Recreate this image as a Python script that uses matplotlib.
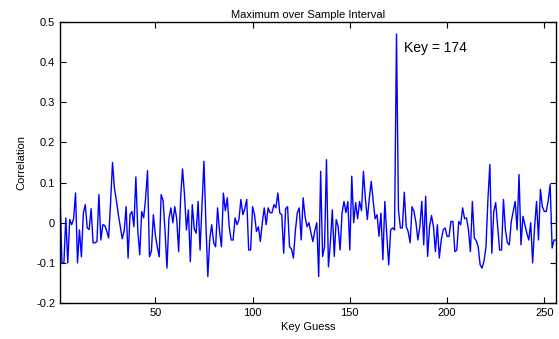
import numpy as np
import matplotlib.pyplot as plt

plt.rcParams['font.family'] = ['Liberation Sans', 'DejaVu Sans']

# correlation for each key guess
corr = [
    0.07, -0.1, -0.1, 0.012, -0.1, 0.008, -0.005, 0.01, 0.074, -0.1,
    -0.018, -0.085, 0.024, 0.045, -0.013, -0.017, 0.035, -0.05, -0.05, -0.047,
    0.07, -0.043, -0.005, -0.007, -0.02, -0.038, 0.05, 0.15, 0.085, 0.055,
    0.02, -0.01, -0.04, -0.02, 0.04, -0.088, 0.02, 0.028, -0.01, 0.114,
    -0.02, -0.08, 0.028, 0.012, 0.06, 0.13, -0.085, -0.07, 0.02, -0.03,
    -0.06, -0.085, 0.07, 0.055, -0.02, -0.113, 0.01, 0.037, 0.0, 0.04,
    0.01, -0.072, 0.06, 0.134, 0.07, -0.018, 0.032, -0.097, 0.045, -0.015,
    -0.026, 0.053, -0.068, 0.04, 0.153, 0.0, -0.134, -0.04, -0.005, -0.05,
    -0.06, 0.037, -0.02, -0.06, 0.074, 0.03, 0.062, -0.01, -0.043, -0.043,
    0.012, -0.005, 0.008, 0.058, 0.02, 0.035, 0.058, -0.068, -0.068, 0.04,
    0.02, -0.022, -0.01, -0.047, 0.0, 0.037, -0.005, 0.037, 0.025, 0.025,
    0.045, 0.037, 0.074, 0.024, 0.02, -0.076, 0.035, 0.04, -0.06, -0.065,
    -0.088, -0.02, 0.025, 0.037, -0.043, 0.062, 0.015, -0.01, 0.0, -0.025,
    -0.047, -0.02, 0.0, -0.134, 0.128, -0.084, -0.06, 0.157, -0.11, -0.05,
    0.032, -0.084, 0.008, -0.01, -0.068, 0.024, 0.053, 0.025, 0.053, -0.068,
    0.116, 0.0, 0.05, 0.01, 0.053, 0.03, 0.128, 0.06, 0.008, 0.06,
    0.103, 0.055, 0.01, 0.02, -0.034, 0.024, -0.092, 0.053, -0.03, -0.105,
    -0.018, -0.013, -0.018, 0.47, 0.032, -0.013, -0.013, 0.076, -0.01, -0.022,
    -0.05, 0.04, 0.028, 0.0, -0.043, -0.01, 0.053, -0.055, 0.066, -0.084,
    -0.01, 0.018, -0.01, -0.072, -0.005, -0.088, -0.043, -0.018, -0.013, -0.034,
    -0.034, 0.003, 0.003, -0.072, -0.068, 0.003, -0.005, 0.037, 0.01, 0.012,
    -0.018, -0.072, 0.053, -0.038, -0.045, -0.06, -0.105, -0.113, -0.095, -0.06,
    0.058, 0.145, -0.076, 0.028, 0.05, -0.01, -0.068, -0.068, 0.058, -0.018,
    -0.05, -0.055, 0.003, 0.028, 0.053, -0.018, 0.12, -0.055, 0.016, -0.005,
    -0.026, -0.043, 0.0, -0.1, -0.01, 0.053, -0.043, 0.083, 0.04, 0.028,
    0.028, 0.055, 0.095, -0.063, -0.043, -0.043,
]
keys = np.arange(1, len(corr) + 1)
best_key = 174

x_ticks = [50, 100, 150, 200, 250]
y_ticks = [-0.2, -0.1, 0, 0.1, 0.2, 0.3, 0.4, 0.5]

fig = plt.figure(figsize=(5.59, 3.39), dpi=100)
ax = fig.add_axes([60 / 559, 1 - 303 / 339, 496 / 559, 281 / 339])

ax.plot(keys, corr, color='#0000ff', linewidth=1)
ax.text(best_key + 4, corr[best_key - 1] - 0.045, 'Key = %d' % best_key, fontsize=10)

ax.set_xlim(1, 256)
ax.set_ylim(-0.2, 0.5)
ax.set_xticks(x_ticks)
ax.set_yticks(y_ticks)
ax.set_yticklabels(['%g' % v for v in y_ticks])
ax.tick_params(direction='in', top=True, right=True, labelsize=8, length=4, width=0.8)
for s in ax.spines.values():
    s.set_linewidth(1)

ax.set_title('Maximum over Sample Interval', fontsize=8, pad=3)
ax.set_xlabel('Key Guess', fontsize=8, labelpad=3)
ax.set_ylabel('Correlation', fontsize=8, labelpad=7)

fig.savefig('out.png', dpi=100)
